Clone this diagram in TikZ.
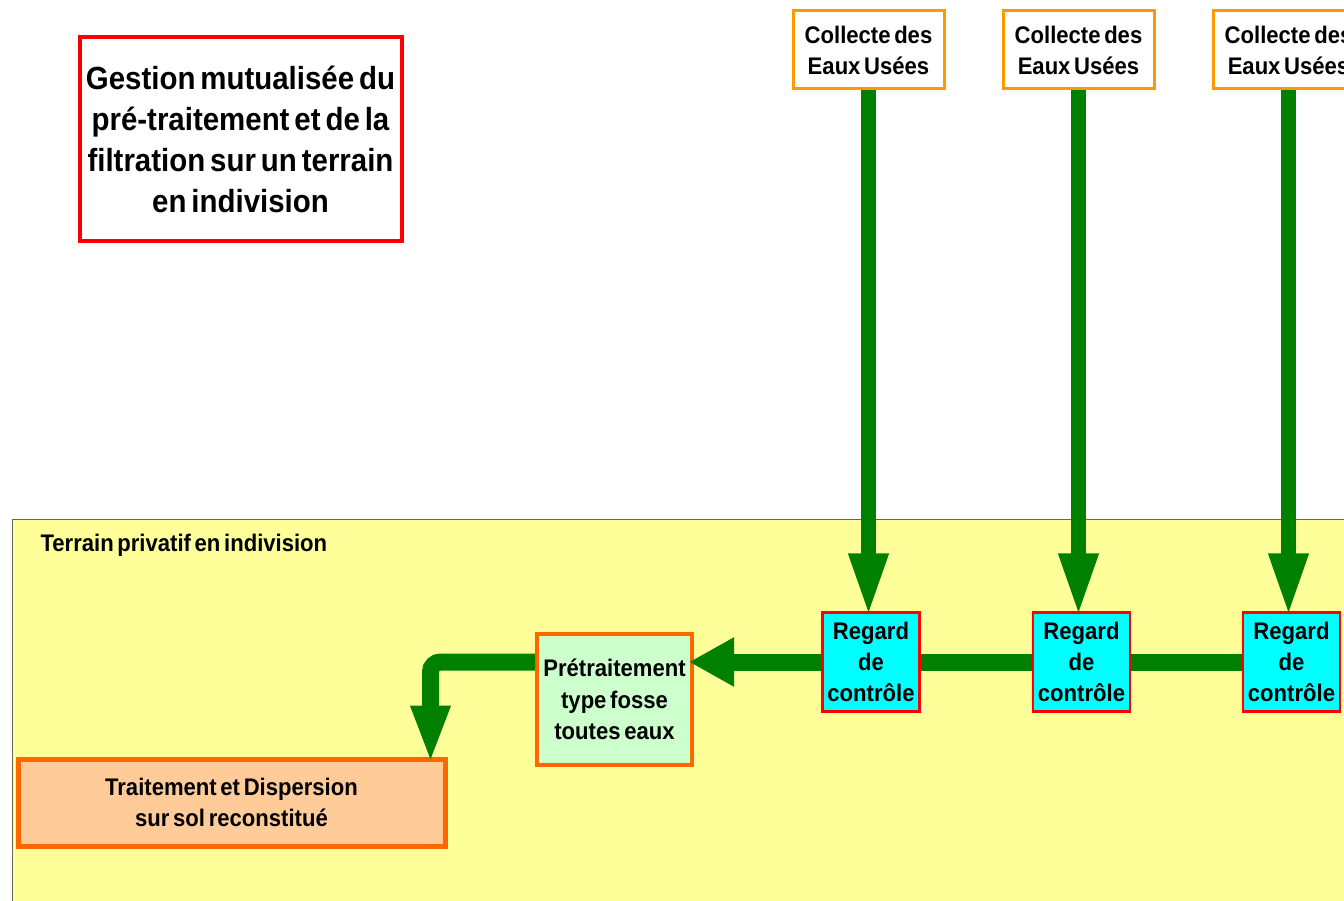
\documentclass[tikz,border=0pt]{standalone}
\usepackage{fontspec}
\setmainfont{Liberation Sans}[FakeStretch=0.92,WordSpace=0.6]
\usetikzlibrary{arrows.meta}
\definecolor{flowgreen}{HTML}{008000}
\definecolor{collorange}{HTML}{FF9900}
\definecolor{boxorange}{HTML}{FF6600}
\definecolor{zoneyellow}{HTML}{FFFF99}
\definecolor{pretraitgreen}{HTML}{CCFFCC}
\definecolor{traitpeach}{HTML}{FFCC99}
\definecolor{regardcyan}{HTML}{00FFFF}
\begin{document}
\begin{tikzpicture}[x=1pt,y=-1pt,
    box/.style={align=center,inner sep=0pt,font=\bfseries\fontsize{24}{31}\selectfont},
    collecte/.style={box,draw=collorange,line width=3pt,fill=white,minimum width=151pt,minimum height=78pt},
    regard/.style={box,draw=red,line width=2.5pt,fill=regardcyan,minimum width=97pt,minimum height=99pt},
    flow/.style={draw=flowgreen,line width=15pt,shorten >=-6pt,-{Triangle[width=36pt,length=64pt]}},
    pipe/.style={draw=flowgreen,line width=17pt}]
    \useasboundingbox (0,0) rectangle (1344,901);
    \draw[fill=zoneyellow,draw=gray!80!black,line width=1pt] (12,519) rectangle (1360,920);
    \node[anchor=west,font=\bfseries\fontsize{24}{28}\selectfont] (zone) at (37,545) {Terrain privatif en indivision};
    \node[box,draw=red,line width=4pt,fill=white,minimum width=322pt,minimum height=204pt,font=\bfseries\fontsize{32}{41}\selectfont] (titre) at (240.5,139.5) {Gestion mutualisée du\\pré-traitement et de la\\filtration sur un terrain\\en indivision};
    \node[collecte] (collecte1) at (868.5,50) {Collecte des\\Eaux Usées};
    \node[collecte] (collecte2) at (1078.5,50) {Collecte des\\Eaux Usées};
    \node[collecte] (collecte3) at (1288.5,50) {Collecte des\\Eaux Usées};
    \node[regard] (regard1) at (871,662) {Regard\\de\\contrôle};
    \node[regard] (regard2) at (1081.5,662) {Regard\\de\\contrôle};
    \node[regard] (regard3) at (1291.5,662) {Regard\\de\\contrôle};
    \node[box,draw=boxorange,line width=4pt,fill=pretraitgreen,minimum width=155pt,minimum height=131pt,font=\bfseries\fontsize{24}{31.5}\selectfont] (pretrait) at (614.5,699.5) {Prétraitement\\type fosse\\toutes eaux};
    \node[box,draw=boxorange,line width=5pt,fill=traitpeach,minimum width=427pt,minimum height=87pt,font=\bfseries\fontsize{24}{31}\selectfont] (traitement) at (231.5,802.5) {Traitement et Dispersion\\sur sol reconstitué};
    \draw[flow] (collecte1.south) -- (collecte1.south |- regard1.north);
    \draw[flow] (collecte2.south) -- (collecte2.south |- regard2.north);
    \draw[flow] (collecte3.south) -- (collecte3.south |- regard3.north);
    \draw[pipe] (regard3.west) -- (regard2.east);
    \draw[pipe] (regard2.west) -- (regard1.east);
    \draw[pipe,shorten >=-5pt,-{Triangle[width=46pt,length=45pt]}] (regard1.west) -- (regard1.west -| pretrait.east);
    \draw[pipe,rounded corners=10pt,shorten >=-7pt,-{Triangle[width=36pt,length=58pt]}] (regard1.west -| pretrait.west) -| ([xshift=-17pt]traitement.north east);
\end{tikzpicture}
\end{document}
